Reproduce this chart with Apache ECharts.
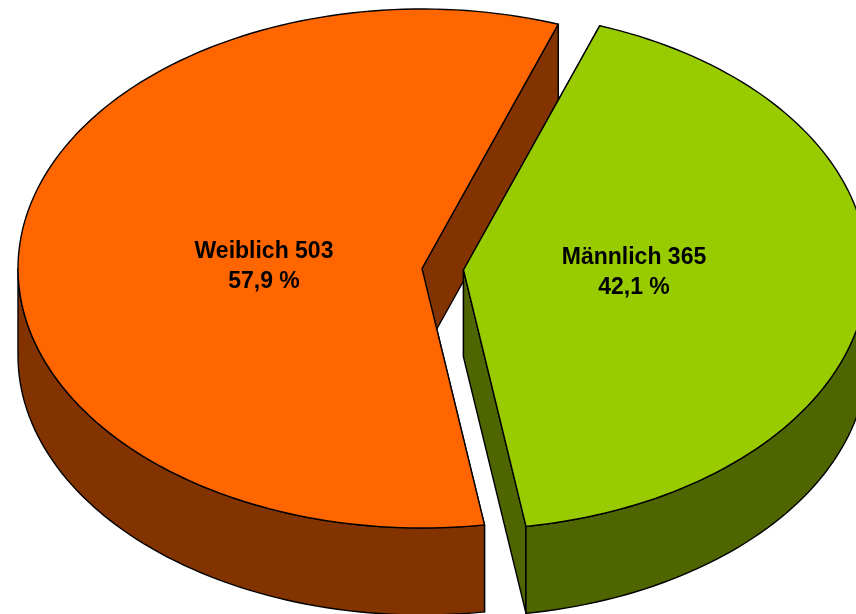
<!DOCTYPE html>
<html>
<head>
<meta charset="utf-8">
<style>html,body{margin:0;padding:0;background:#fff}#c{width:856px;height:614px}</style>
<script src="https://cdn.jsdelivr.net/npm/echarts@6/dist/echarts.min.js"></script>
</head>
<body>
<div id="c"></div>
<script>
// Data
const categories = ['Weiblich', 'Männlich'];
const counts = [503, 365];
const percentLabels = ['57,9 %', '42,1 %'];

// Styles
const topColors = ['#ff6600', '#99cc00'];
const sideColors = ['#833300', '#4f6600'];
const apexes = [[422, 268.5], [463.5, 270]];
const labelOffsets = [[-158, -32], [170.5, -27]];
const RX = 404, RY = 259.5, DEPTH = 87, START_DEG = 171.1;

const total = counts.reduce((a, b) => a + b, 0);
const chart = echarts.init(document.getElementById('c'), null, {renderer: 'canvas'});

function pt(apex, deg, dy) {
  const a = deg * Math.PI / 180;
  return [apex[0] + RX * Math.sin(a), apex[1] - RY * Math.cos(a) + (dy || 0)];
}
function arc(apex, from, to, dy) {
  const out = [], n = Math.max(2, Math.ceil(Math.abs(to - from) / 1.5));
  for (let i = 0; i <= n; i++) out.push(pt(apex, from + (to - from) * i / n, dy));
  return out;
}
function poly(points, fill) {
  return {type: 'polygon', shape: {points}, style: {fill, stroke: '#000', lineWidth: 1.4, lineJoin: 'round'}};
}

function renderItem(params, api) {
  const i = params.dataIndex;
  let before = 0;
  for (let k = 0; k < i; k++) before += counts[k];
  const from = (START_DEG + before / total * 360) % 360;
  const to = from + api.value(1) / total * 360;
  const apex = apexes[i], side = sideColors[i], kids = [];

  [from, to].forEach(d => {
    const p = pt(apex, d);
    kids.push(poly([apex, p, [p[0], p[1] + DEPTH], [apex[0], apex[1] + DEPTH]], side));
  });
  const wallFrom = Math.max(from, 90), wallTo = Math.min(to, 270);
  if (wallTo > wallFrom) {
    kids.push(poly(arc(apex, wallFrom, wallTo).concat(arc(apex, wallTo, wallFrom, DEPTH)), side));
  }
  kids.push(poly([apex].concat(arc(apex, from, to)), topColors[i]));
  kids.push({
    type: 'text',
    style: {
      text: categories[i] + ' ' + api.value(1) + '\n' + percentLabels[i],
      x: apex[0] + labelOffsets[i][0],
      y: apex[1] + labelOffsets[i][1],
      align: 'center',
      verticalAlign: 'top',
      font: 'bold 23px "Liberation Sans", Arial, sans-serif',
      lineHeight: 30,
      fill: '#000'
    }
  });
  return {type: 'group', children: kids};
}

chart.setOption({
  animation: false,
  backgroundColor: '#fff',
  series: [{
    type: 'custom',
    coordinateSystem: 'none',
    silent: true,
    renderItem,
    data: categories.map((c, i) => ({name: c, value: [i, counts[i]]}))
  }]
});
</script>
</body>
</html>
